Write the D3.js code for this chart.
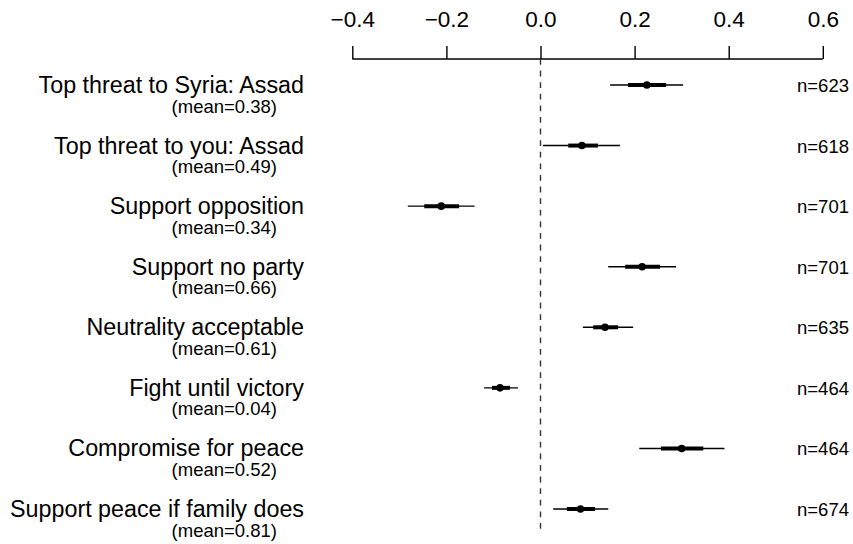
<!DOCTYPE html>
<html lang="en">
<head>
    <meta charset="UTF-8">
    <title>coefficient plot</title>
    <script src="https://cdn.jsdelivr.net/npm/d3@7"></script>
    <style>
        body { margin: 0; background: #fff; }
        text { font-family: "Liberation Sans", Arial, sans-serif; fill: #000; }
    </style>
</head>
<body>
<svg width="853" height="544" id="my-svg"></svg>
<script>
    // data
    const labels = ["Top threat to Syria: Assad", "Top threat to you: Assad", "Support opposition",
        "Support no party", "Neutrality acceptable", "Fight until victory",
        "Compromise for peace", "Support peace if family does"];
    const means = ["0.38", "0.49", "0.34", "0.66", "0.61", "0.04", "0.52", "0.81"];
    const ns = [623, 618, 701, 701, 635, 464, 464, 674];
    const est = [0.226, 0.088, -0.211, 0.216, 0.137, -0.086, 0.300, 0.085];
    const lo95 = [0.148, 0.005, -0.282, 0.144, 0.090, -0.120, 0.210, 0.027];
    const hi95 = [0.303, 0.169, -0.140, 0.288, 0.197, -0.048, 0.391, 0.144];
    const lo50 = [0.186, 0.059, -0.247, 0.180, 0.112, -0.103, 0.256, 0.056];
    const hi50 = [0.267, 0.122, -0.173, 0.254, 0.165, -0.065, 0.346, 0.116];
    const ticks = [-0.4, -0.2, 0, 0.2, 0.4, 0.6];

    const svg = d3.select("#my-svg");
    const x = d3.scaleLinear().domain([-0.4, 0.6]).range([352.3, 822.8]);
    const y = d3.scalePoint().domain(d3.range(labels.length)).range([85, 509]);

    // top axis
    const axisY = 59;
    const ax = svg.append("g").attr("transform", `translate(0,${axisY})`)
        .call(d3.axisTop(x).tickValues(ticks).tickSize(13).tickPadding(19)
            .tickFormat(d => d3.format(".1f")(d).replace("-", "\u2013")));
    ax.select(".domain").attr("stroke", "#000").attr("stroke-width", 1.4)
        .attr("d", `M${x(-0.4)},0H${x(0.6)}`);
    ax.selectAll(".tick line").attr("stroke", "#000").attr("stroke-width", 1.4);
    ax.selectAll(".tick text").attr("font-size", 22.5).attr("fill", "#000")
        .style("font-family", "'Liberation Sans', Arial, sans-serif");

    // zero reference line
    svg.append("line")
        .attr("x1", x(0)).attr("x2", x(0))
        .attr("y1", axisY).attr("y2", 533)
        .attr("stroke", "#333").attr("stroke-width", 1.4)
        .attr("stroke-dasharray", "5.8,5.8");

    const rows = svg.append("g").selectAll("g").data(labels).join("g")
        .attr("transform", (d, i) => `translate(0,${y(i)})`);

    rows.append("line")
        .attr("x1", (d, i) => x(lo95[i])).attr("x2", (d, i) => x(hi95[i]))
        .attr("stroke", "#000").attr("stroke-width", 1.4);
    rows.append("line")
        .attr("x1", (d, i) => x(lo50[i])).attr("x2", (d, i) => x(hi50[i]))
        .attr("stroke", "#000").attr("stroke-width", 4);
    rows.append("circle")
        .attr("cx", (d, i) => x(est[i])).attr("cy", 0).attr("r", 3.8)
        .attr("fill", "#000");

    rows.append("text")
        .attr("x", 304).attr("y", 8)
        .attr("text-anchor", "end").attr("font-size", 23.3)
        .text(d => d);
    rows.append("text")
        .attr("x", 277).attr("y", 27.5)
        .attr("text-anchor", "end").attr("font-size", 18.5)
        .text((d, i) => `(mean=${means[i]})`);
    rows.append("text")
        .attr("x", 849).attr("y", 7)
        .attr("text-anchor", "end").attr("font-size", 18.5)
        .text((d, i) => `n=${ns[i]}`);
</script>
</body>
</html>
